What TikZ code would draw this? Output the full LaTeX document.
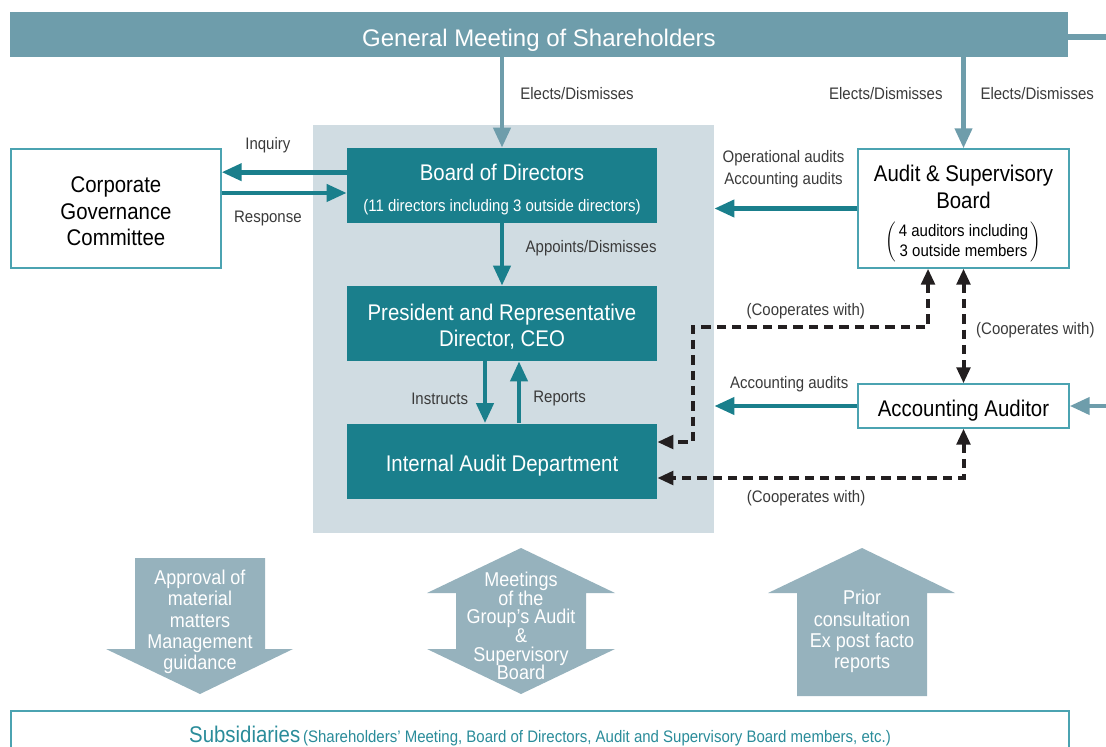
\documentclass[tikz,border=0pt]{standalone}
\usepackage{fontspec}
\setmainfont{Liberation Sans}[FakeStretch=0.9]
\newfontfamily\titlefamily{Liberation Sans}
\usepackage{xcolor}
\definecolor{BarBlue}  {HTML}{6E9DAB}
\definecolor{DeepTeal} {HTML}{1A7F8C}
\definecolor{PaleGray} {HTML}{D0DCE2}
\definecolor{ArrowGray}{HTML}{96B2BD}
\definecolor{EdgeTeal} {HTML}{4BA3B1}
\definecolor{SubTeal}  {HTML}{2A8C9A}
\definecolor{TextGray} {HTML}{3A3A3A}
\definecolor{InkBlack} {HTML}{231F20}
\usetikzlibrary{arrows.meta, positioning}
\newcommand\labelsize{\fontsize{12.5pt}{15pt}\selectfont}
\newcommand\boxsize{\fontsize{17pt}{20pt}\selectfont}
\newcommand\bigsize{\fontsize{15pt}{16pt}\selectfont}
\begin{document}
\begin{tikzpicture}[
  x=0.75pt, y=-0.75pt,
  font=\labelsize, text=TextGray,
  sink/.style={text depth=0pt, text height=#1},
  unit/.style={
    fill=DeepTeal, text=white, font=\boxsize,
    align=center, inner sep=0pt,
    minimum width=232.5pt, minimum height=56.25pt},
  outbox/.style={
    draw=EdgeTeal, line width=0.9pt, fill=white,
    text=black, font=\boxsize, align=center,
    inner sep=0pt},
  flow/.style={
    -{Triangle[length=15pt, width=12.5pt]},
    line width=3.5pt, DeepTeal},
  elect/.style={flow, BarBlue},
  coop/.style={
    {Triangle[length=12pt, width=10pt]}-{Triangle[length=12pt, width=10pt]},
    line width=3pt, dash pattern=on 7pt off 4.5pt, InkBlack},
  lbl/.style={font=\labelsize, text=TextGray, inner sep=0pt},
  bigarrow/.style={fill=ArrowGray},
  arrowtext/.style={text=white, font=\bigsize, align=center, inner sep=0pt}
]
\useasboundingbox (0,0) rectangle (1106,746);

% background and boxes
\node[fill=PaleGray, minimum width=300.75pt, minimum height=306pt,
  inner sep=0pt] (bg) at (513.5,329) {};
\node[fill=BarBlue, text=white, minimum width=793.5pt,
  minimum height=33.75pt, inner sep=0pt, sink=17.25pt,
  font=\titlefamily\fontsize{18pt}{20pt}\selectfont]
  (gms) at (539,34.5) {General Meeting of Shareholders};
\node[unit, sink=39.5pt] (bod) at (502,185.5)
  {Board of Directors\\[3.5pt]\labelsize(11 directors including 3 outside directors)};
\node[unit, sink=35.2pt] (pres) at (502,323.5)
  {President and Representative\\Director, CEO};
\node[unit, sink=15.8pt] (iad) at (502,461) {Internal Audit Department};
\node[outbox, sink=56pt, minimum width=157.5pt, minimum height=89.25pt]
  (cgc) at (116,208.5) {Corporate\\Governance\\Committee};
\node[outbox, minimum width=158.25pt, minimum height=89.25pt]
  (asb) at (963.5,208.5)
  {Audit \& Supervisory\\Board\\[1pt]
   {\labelsize\raisebox{-7.5pt}[\height][\depth]{$\left(\,\begin{tabular}{@{}c@{}}4 auditors including\\3 outside members\end{tabular}\,\right)$}}};
\node[outbox, sink=15.8pt, minimum width=158.25pt, minimum height=33pt]
  (aa) at (963.5,406) {Accounting Auditor};
\node[outbox, minimum width=793.5pt, minimum height=37.5pt,
  text=SubTeal, font=\labelsize]
  (subs) at (540,736)
  {{\boxsize Subsidiaries}\,(Shareholders’ Meeting, Board of Directors, Audit and Supervisory Board members, etc.)};

\coordinate (gmsout) at (1112,37);
\coordinate (aain) at (1112,406);
\coordinate (k1) at (693,327);

% connectors
\draw[BarBlue, line width=4pt] (gms.east |- gmsout) -- (gmsout);
\draw[elect] (bod.north |- gms.south) --
  node[lbl, right=12pt, pos=0.4] {Elects/Dismisses} (bod.north);
\draw[elect] (asb.north |- gms.south) --
  node[lbl, left=14pt, pos=0.4] {Elects/Dismisses}
  node[lbl, right=11pt, pos=0.4] {Elects/Dismisses} (asb.north);
\draw[flow] (bod.south) --
  node[lbl, right=16pt, pos=0.4] {Appoints/Dismisses} (pres.north);
\draw[flow] ([xshift=-12.75pt]pres.south) --
  node[lbl, left=11pt, pos=0.6] {Instructs} ([xshift=-12.75pt]iad.north);
\draw[flow] ([xshift=12.75pt]iad.north) --
  node[lbl, right=9pt, pos=0.4] {Reports} ([xshift=12.75pt]pres.south);
\draw[flow] ([yshift=10pt]bod.west) --
  node[lbl, above=13pt, pos=0.63] {Inquiry} ([yshift=10pt]bod.west -| cgc.east);
\draw[flow] ([yshift=-5.6pt]cgc.east |- bod.west) --
  node[lbl, below=11.5pt, pos=0.37] {Response} ([yshift=-5.6pt]bod.west);
\draw[flow] (asb.west) --
  node[lbl, pos=0, above left=14pt and 8pt, align=center]
  {Operational audits\\[1.5pt]Accounting audits} (asb.west -| bg.east);
\draw[flow] (aa.west) --
  node[lbl, pos=0, above left=8.5pt and 5pt] {Accounting audits} (aa.west -| bg.east);
\draw[elect] (aain) -- (aa.east);

\draw[coop] ([xshift=-26.6pt]asb.south) |-
  node[lbl, pos=0.76, above=4.5pt] {(Cooperates with)} (k1)
  |- ([yshift=14.25pt]iad.east);
\draw[coop] (asb.south) --
  node[lbl, right=8pt, pos=0.54] {(Cooperates with)} (aa.north);
\draw[coop] (aa.south) |-
  node[lbl, pos=0.757, below=8pt] {(Cooperates with)} ([yshift=-12.75pt]iad.east);

% group arrows
\fill[bigarrow] (135,558) -- (265,558) -- (265,649) -- (293,649) -- (200,694)
  -- (106,649) -- (135,649) -- cycle;
\node[arrowtext] (approve) at (200,622)
  {Approval of\\material\\matters\\Management\\guidance};
\fill[bigarrow] (521,548) -- (615,593) -- (586,593) -- (586,649) -- (615,649)
  -- (521,694) -- (427,649) -- (456,649) -- (456,593) -- (427,593) -- cycle;
\node[arrowtext, font=\fontsize{15pt}{14pt}\selectfont] (meet) at (521,626)
  {Meetings\\of the\\Group’s Audit\\\&\\Supervisory\\Board};
\fill[bigarrow] (862,548) -- (955,593) -- (927,593) -- (927,696) -- (797,696)
  -- (797,593) -- (768,593) -- cycle;
\node[arrowtext] (prior) at (862,631.5)
  {Prior\\consultation\\Ex post facto\\reports};
\end{tikzpicture}
\end{document}
